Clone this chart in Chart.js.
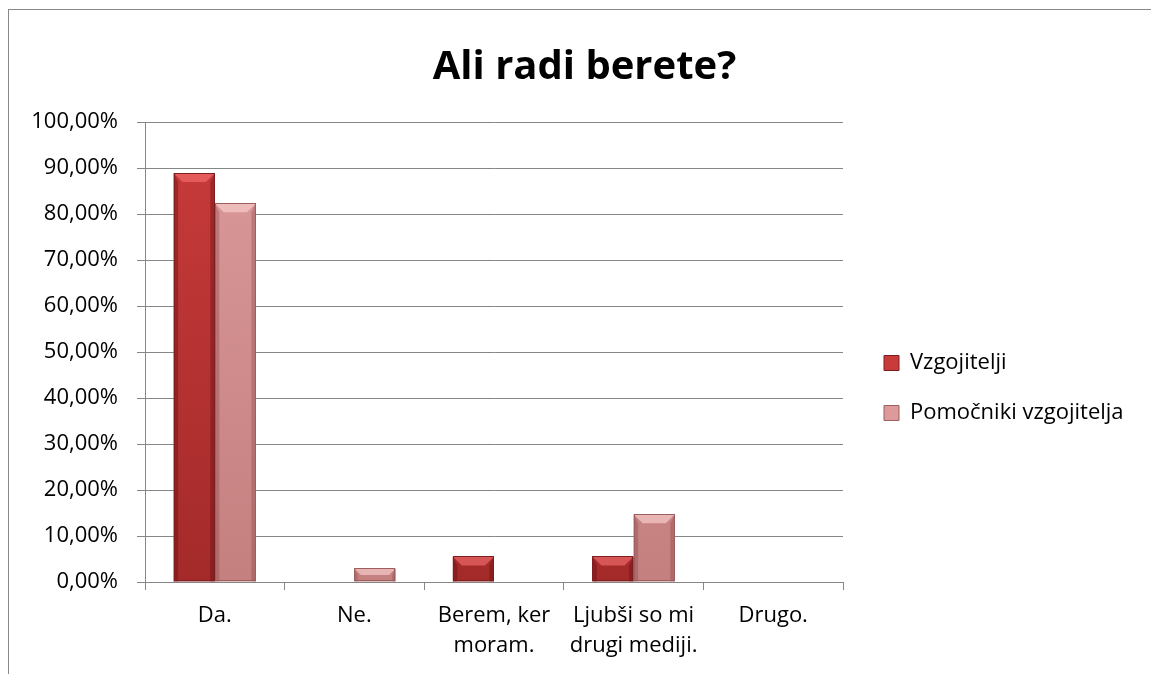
<!DOCTYPE html>
<html><head><meta charset="utf-8">
<script src="https://cdn.jsdelivr.net/npm/chart.js@4"></script>
<style>html,body{margin:0;padding:0;background:#fff}#wrap{width:1151px;height:674px}</style>
</head><body><div id="wrap"><canvas id="c" width="1151" height="674"></canvas></div>
<script>
const categories = ["Da.", "Ne.", ["Berem, ker", "moram."], ["Ljubši so mi", "drugi mediji."], "Drugo."];
const vzgojitelji = [88.89, 0, 5.56, 5.56, 0];
const pomocniki = [82.35, 2.94, 0, 14.71, 0];
const seriesNames = ["Vzgojitelji", "Pomočniki vzgojitelja"];
const titleText = "Ali radi berete?";
const FONT = "'Open Sans', 'Noto Sans', sans-serif";

const palette = [
  { top: '#C93B3B', bottom: '#A42A2A', bevel: 'rgba(255,120,120,0.55)', side: 'rgba(90,10,10,0.35)', edge: '#7E1E20' },
  { top: '#DC9A9A', bottom: '#C47F7F', bevel: 'rgba(255,215,215,0.6)', side: 'rgba(110,40,40,0.25)', edge: '#9C5E5F' }
];

function gradFill(i) {
  return (context) => {
    const chart = context.chart;
    const ca = chart.chartArea;
    if (!ca) return palette[i].top;
    const g = chart.ctx.createLinearGradient(0, ca.top, 0, ca.bottom);
    g.addColorStop(0, palette[i].top);
    g.addColorStop(1, palette[i].bottom);
    return g;
  };
}

const framePlugin = {
  id: 'frame',
  beforeDraw(chart) {
    const ctx = chart.ctx;
    ctx.save();
    ctx.fillStyle = '#fff';
    ctx.fillRect(0, 0, chart.width, chart.height);
    ctx.strokeStyle = '#888';
    ctx.lineWidth = 1;
    ctx.strokeRect(8.5, 9.5, chart.width + 10, chart.height + 10);
    ctx.restore();
  }
};

const legendFix = {
  id: 'legendFix',
  beforeLayout(chart) {
    const l = chart.legend;
    if (l && !l._patched) {
      const orig = l.fit.bind(l);
      l.fit = function () { orig(); this.width = 308; };
      l._patched = true;
    }
  },
  afterLayout(chart) {
    const l = chart.legend;
    if (l) { l.left += 13; l.right += 13; l.top += 51; l.bottom += 51; }
    const t = chart.titleBlock;
    if (t) { t.left += 9; t.right += 9; }
  }
};

const bevelPlugin = {
  id: 'bevel',
  afterDatasetsDraw(chart) {
    const ctx = chart.ctx;
    chart.data.datasets.forEach((ds, di) => {
      const meta = chart.getDatasetMeta(di);
      meta.data.forEach(bar => {
        const { x, y, base, width } = bar.getProps(['x', 'y', 'base', 'width'], true);
        const h = base - y;
        if (h < 1) return;
        const l = x - width / 2, r = x + width / 2;
        const b = Math.min(9, h / 2, width / 4);
        ctx.save();
        ctx.fillStyle = palette[di].bevel;
        ctx.beginPath();
        ctx.moveTo(l, y); ctx.lineTo(r, y); ctx.lineTo(r - b, y + b); ctx.lineTo(l + b, y + b); ctx.closePath();
        ctx.fill();
        ctx.fillStyle = palette[di].side;
        ctx.beginPath();
        ctx.moveTo(l, y); ctx.lineTo(l + b * 0.5, y + b); ctx.lineTo(l + b * 0.5, base); ctx.lineTo(l, base); ctx.closePath();
        ctx.fill();
        ctx.beginPath();
        ctx.moveTo(r, y); ctx.lineTo(r - b * 0.5, y + b); ctx.lineTo(r - b * 0.5, base); ctx.lineTo(r, base); ctx.closePath();
        ctx.fill();
        ctx.strokeStyle = palette[di].edge;
        ctx.lineWidth = 1;
        ctx.strokeRect(Math.round(l) + 0.5, Math.round(y) + 0.5, Math.round(width) - 1, Math.round(h) - 1);
        ctx.restore();
      });
    });
  }
};

new Chart(document.getElementById('c'), {
  type: 'bar',
  data: {
    labels: categories,
    datasets: [
      { label: seriesNames[0], data: vzgojitelji, backgroundColor: gradFill(0), borderWidth: 0 },
      { label: seriesNames[1], data: pomocniki, backgroundColor: gradFill(1), borderWidth: 0 }
    ]
  },
  plugins: [framePlugin, legendFix, bevelPlugin],
  options: {
    responsive: false,
    animation: false,
    devicePixelRatio: 1,
    layout: { padding: { left: 0, right: 0, top: 0, bottom: 0 } },
    datasets: { bar: { categoryPercentage: 0.59, barPercentage: 1.0 } },
    plugins: {
      title: { display: true, text: titleText, color: '#000', font: { family: FONT, size: 40, weight: 'bold', lineHeight: 1.2 }, padding: { top: 44, bottom: 30 } },
      legend: {
        position: 'right', align: 'center',
        labels: {
          color: '#000', font: { family: FONT, size: 22 }, boxWidth: 15, boxHeight: 15, padding: 28,
          generateLabels(chart) {
            return chart.data.datasets.map((ds, i) => ({
              text: ds.label, fillStyle: palette[i].top, strokeStyle: palette[i].edge, lineWidth: 1,
              hidden: false, datasetIndex: i
            }));
          }
        }
      },
      tooltip: { enabled: false }
    },
    scales: {
      x: {
        afterFit(s) { s.height = 92; },
        grid: { display: true, drawOnChartArea: false, color: '#868686', tickLength: 8, offset: true },
        border: { color: '#868686' },
        ticks: { color: '#000', font: { family: FONT, size: 22, lineHeight: 1.36 }, maxRotation: 0, padding: 11 }
      },
      y: {
        min: 0, max: 100,
        afterFit(s) { s.width = 145; },
        grid: { color: '#868686', tickLength: 8 },
        border: { color: '#868686' },
        ticks: { stepSize: 10, color: '#000', font: { family: FONT, size: 22 }, padding: 19,
          callback: v => v.toFixed(2).replace('.', ',') + '%' }
      }
    }
  }
});
</script></body></html>
